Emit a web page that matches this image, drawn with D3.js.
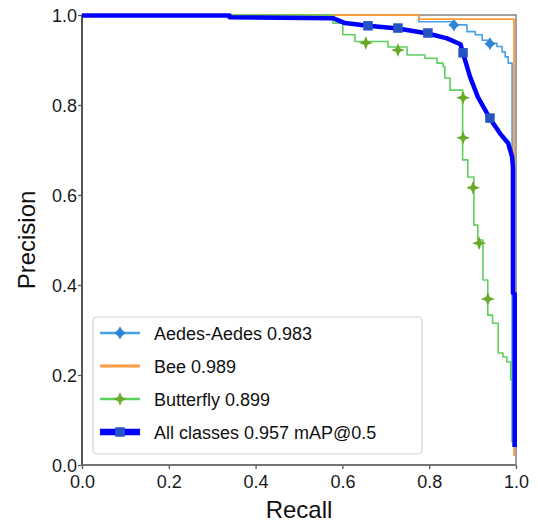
<!DOCTYPE html>
<html>
<head>
<meta charset="utf-8">
<script src="https://cdn.jsdelivr.net/npm/d3@7"></script>
<style>
  body { margin: 0; background: #fff; }
  svg { display: block; font-family: "Liberation Sans", Arial, sans-serif; }
</style>
</head>
<body>
<div id="chart"></div>
<script>

// ---- data ----
const xTicks = [0.0, 0.2, 0.4, 0.6, 0.8, 1.0];
const yTicks = [0.0, 0.2, 0.4, 0.6, 0.8, 1.0];

const legendLabels = ["Aedes-Aedes 0.983", "Bee 0.989", "Butterfly 0.899", "All classes 0.957 mAP@0.5"];

// Aedes-Aedes
const aedesRecall    = [0, 0.776, 0.857, 0.887, 0.906, 0.922, 0.940, 0.956, 0.968, 0.975, 0.982, 0.991, 0.991];
const aedesPrecision = [1, 0.985, 0.978, 0.963, 0.956, 0.944, 0.937, 0.930, 0.918, 0.907, 0.893, 0.878, 0.05];
const aedesMarkR = [0.857, 0.940];
const aedesMarkP = [0.978, 0.936];

// Bee
const beeRecall    = [0, 0.776, 0.9955, 0.9955];
const beePrecision = [1, 0.991, 0.991, 0.02];

// Butterfly
const flyRecall    = [0, 0.578, 0.601, 0.629, 0.705, 0.749, 0.790, 0.818, 0.832, 0.836, 0.848, 0.877, 0.889, 0.903, 0.912, 0.924, 0.935, 0.946, 0.959, 0.970, 0.979, 0.988, 0.993, 0.993];
const flyPrecision = [1, 0.982, 0.956, 0.941, 0.929, 0.911, 0.904, 0.893, 0.885, 0.860, 0.833, 0.678, 0.640, 0.533, 0.500, 0.411, 0.333, 0.315, 0.249, 0.240, 0.229, 0.189, 0.04, 0.04];
const flyMarkR = [0.654, 0.728, 0.878, 0.878, 0.901, 0.915, 0.935];
const flyMarkP = [0.938, 0.922, 0.816, 0.727, 0.616, 0.493, 0.369];

// All classes
const allRecall    = [0, 0.34, 0.34, 0.578, 0.606, 0.659, 0.728, 0.797, 0.841, 0.872, 0.878, 0.894, 0.912, 0.940, 0.963, 0.982, 0.991, 0.993, 0.993, 0.997, 0.997];
const allPrecision = [0.999, 0.999, 0.995, 0.993, 0.982, 0.976, 0.970, 0.959, 0.948, 0.935, 0.915, 0.863, 0.818, 0.770, 0.737, 0.715, 0.685, 0.660, 0.382, 0.380, 0.04];
const allMarkR = [0.659, 0.728, 0.797, 0.878, 0.940];
const allMarkP = [0.976, 0.971, 0.960, 0.916, 0.771];


//--------------------------------------
// SETUP
//--------------------------------------

const W = 538, H = 522;
const M = { left: 82, top: 15, right: 22, bottom: 57 };
const iw = W - M.left - M.right;
const ih = H - M.top - M.bottom;

const svg = d3.select("#chart").append("svg")
  .attr("width", W)
  .attr("height", H);

const x = d3.scaleLinear().domain([0, 1]).range([0, iw]);
const y = d3.scaleLinear().domain([0, 1]).range([ih, 0]);

const g = svg.append("g").attr("transform", `translate(${M.left},${M.top})`);

// star with 4 thin points for the butterfly markers
function star4(r) {
  const k = r * 0.28;
  return `M0,${-r}L${k},${-k}L${r},0L${k},${k}L0,${r}L${-k},${k}L${-r},0L${-k},${-k}Z`;
}

// rounded diamond for the aedes markers
function diamond(w, h) {
  return `M0,${-h}Q${w * 0.35},${-h * 0.35} ${w},0Q${w * 0.35},${h * 0.35} 0,${h}Q${-w * 0.35},${h * 0.35} ${-w},0Q${-w * 0.35},${-h * 0.35} 0,${-h}Z`;
}

const series = [
  { r: aedesRecall, p: aedesPrecision, mr: aedesMarkR, mp: aedesMarkP, color: "#45a0e6", mcolor: "#2f86d6", width: 1.6, curve: d3.curveStepAfter,
    marker: () => diamond(5.5, 6.5) },
  { r: beeRecall, p: beePrecision, mr: [], mp: [], color: "#ff9b3d", mcolor: "#ff9b3d", width: 1.8, curve: d3.curveStepAfter, marker: null },
  { r: flyRecall, p: flyPrecision, mr: flyMarkR, mp: flyMarkP, color: "#5dd05d", mcolor: "#6aa92a", width: 1.6, curve: d3.curveStepAfter,
    marker: () => star4(7) },
  { r: allRecall, p: allPrecision, mr: allMarkR, mp: allMarkP, color: "#0000ff", mcolor: "#2553c2", width: 4.5, curve: d3.curveLinear,
    marker: () => d3.symbol(d3.symbolSquare, 90)() }
];


//--------------------------------------
// AXES
//--------------------------------------

const fmt = d3.format(".1f");

const xAxis = g.append("g")
  .attr("transform", `translate(0,${ih})`)
  .call(d3.axisBottom(x).tickValues(xTicks).tickFormat(fmt).tickSize(4).tickSizeOuter(0));

const yAxis = g.append("g")
  .call(d3.axisLeft(y).tickValues(yTicks).tickFormat(fmt).tickSize(4).tickSizeOuter(0));

[xAxis, yAxis].forEach(function (a) {
  a.select(".domain").remove();
  a.selectAll(".tick line").attr("stroke", "#555").attr("stroke-width", 1.3);
  a.selectAll(".tick text")
    .attr("font-size", 18)
    .attr("fill", "#1a1a1a")
    .attr("font-family", "Liberation Sans, Arial, sans-serif");
});
xAxis.selectAll(".tick text").attr("dy", null).attr("y", 23);
yAxis.selectAll(".tick text").attr("x", -5).attr("dy", "0.35em");

// frame
g.append("rect")
  .attr("x", 0).attr("y", 0)
  .attr("width", iw).attr("height", ih)
  .attr("fill", "none")
  .attr("stroke", "#8a8a8a")
  .attr("stroke-width", 1.6);
g.append("line")
  .attr("x1", 0).attr("x2", 0).attr("y1", 0).attr("y2", ih)
  .attr("stroke", "#555").attr("stroke-width", 2);
g.append("line")
  .attr("x1", 0).attr("x2", iw).attr("y1", ih).attr("y2", ih)
  .attr("stroke", "#666").attr("stroke-width", 1.6);


//--------------------------------------
// CURVES
//--------------------------------------

series.forEach(function (s) {
  const pts = s.r.map((r, i) => [r, s.p[i]]);
  const line = d3.line().x(d => x(d[0])).y(d => y(d[1])).curve(s.curve);

  g.append("path")
    .datum(pts)
    .attr("d", line)
    .attr("fill", "none")
    .attr("stroke", s.color)
    .attr("stroke-width", s.width)
    .attr("stroke-linejoin", "round");

  if (s.marker) {
    g.selectAll(null)
      .data(s.mr.map((r, i) => [r, s.mp[i]]))
      .enter()
      .append("path")
      .attr("transform", d => `translate(${x(d[0])},${y(d[1])})`)
      .attr("d", s.marker)
      .attr("fill", s.mcolor);
  }
});


//--------------------------------------
// LEGEND
//--------------------------------------

const legend = g.append("g").attr("transform", `translate(${93 - M.left},${317 - M.top})`);

legend.append("rect")
  .attr("width", 329).attr("height", 137)
  .attr("rx", 4)
  .attr("fill", "#fff").attr("fill-opacity", 0.85)
  .attr("stroke", "#d4d4d4").attr("stroke-width", 1.2);

series.forEach(function (s, i) {
  const cy = 16 + i * 33;
  legend.append("line")
    .attr("x1", 7).attr("x2", 47).attr("y1", cy).attr("y2", cy)
    .attr("stroke", s.color)
    .attr("stroke-width", s.width + (i === 3 ? 2 : 1));
  if (s.marker) {
    legend.append("path")
      .attr("transform", `translate(27,${cy})`)
      .attr("d", s.marker)
      .attr("fill", s.mcolor);
  }
  legend.append("text")
    .attr("x", 61).attr("y", cy + 6.5)
    .attr("font-size", 18)
    .attr("fill", "#111")
    .text(legendLabels[i]);
});


//--------------------------------------
// AXIS TITLES
//--------------------------------------

svg.append("text")
  .attr("x", M.left + iw / 2)
  .attr("y", 518)
  .attr("text-anchor", "middle")
  .attr("font-size", 24)
  .attr("fill", "#111")
  .text("Recall");

svg.append("text")
  .attr("transform", `translate(35,${M.top + ih / 2}) rotate(-90)`)
  .attr("text-anchor", "middle")
  .attr("font-size", 24)
  .attr("fill", "#111")
  .text("Precision");

</script>
</body>
</html>
